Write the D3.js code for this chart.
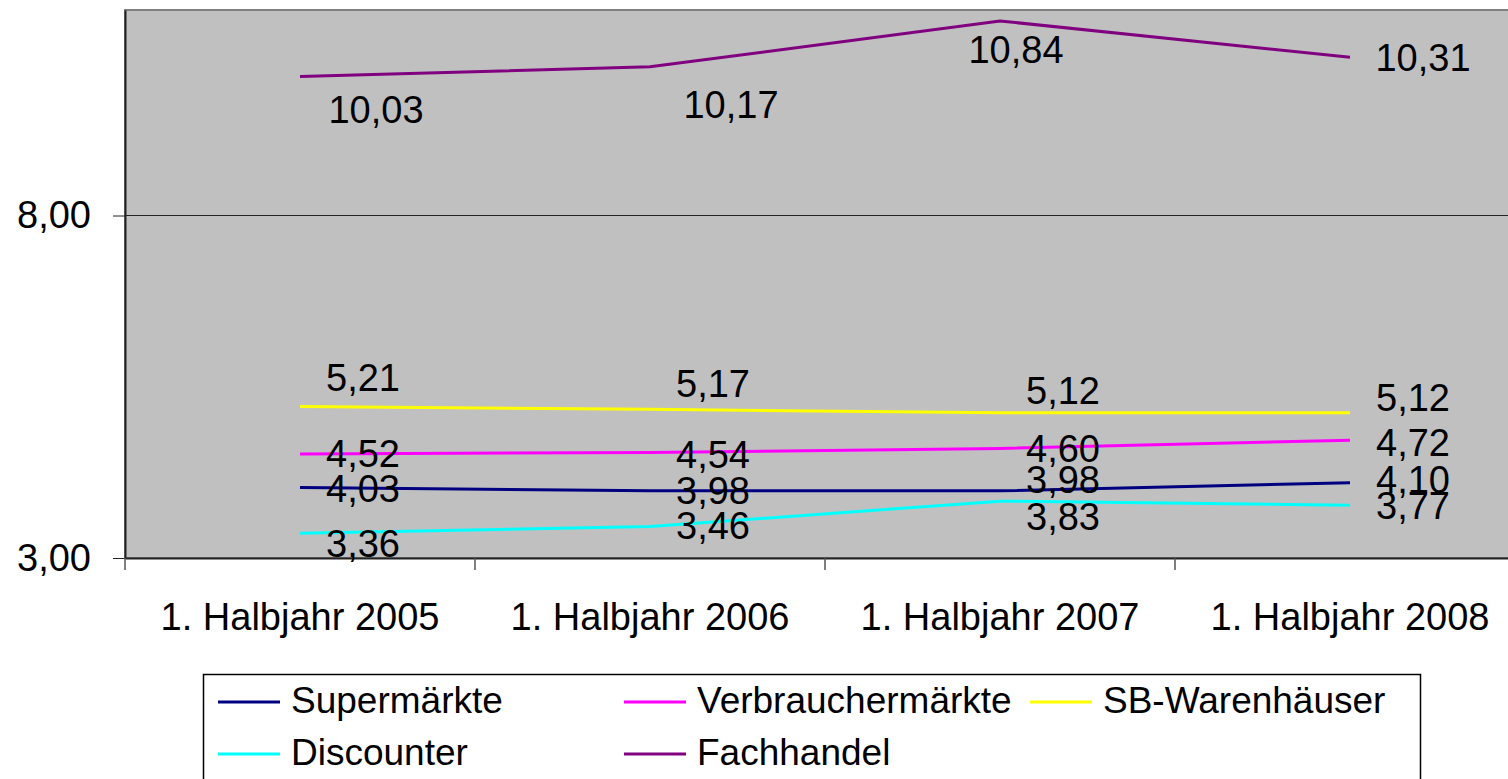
<!DOCTYPE html>
<html>
<head>
<meta charset="utf-8">
<script src="https://cdn.jsdelivr.net/npm/d3@7"></script>
<style>
  body { margin: 0; background: #fff; }
  svg { display: block; font-family: Arial, "Liberation Sans", sans-serif; }
</style>
</head>
<body>
<svg id="chart"></svg>
<script>
// Data
const categories = ["1. Halbjahr 2005", "1. Halbjahr 2006", "1. Halbjahr 2007", "1. Halbjahr 2008"]
const seriesNames = ["Supermärkte", "Verbrauchermärkte", "SB-Warenhäuser", "Discounter", "Fachhandel"]
const supermaerkte = [4.03, 3.98, 3.98, 4.10]
const verbrauchermaerkte = [4.52, 4.54, 4.60, 4.72]
const sbWarenhaeuser = [5.21, 5.17, 5.12, 5.12]
const discounter = [3.36, 3.46, 3.83, 3.77]
const fachhandel = [10.03, 10.17, 10.84, 10.31]
const yTicks = [3, 8]

// Styles / layout
const colors = ["#000080", "#FF00FF", "#FFFF00", "#00FFFF", "#800080"]
// label placement relative to each point: [dx of label centre, dy of baseline]
const labelShift = [
  [[63, 15], [63, 13], [63, 2], [63, 10]],
  [[63, 13], [63, 15], [63, 14], [63, 16]],
  [[63, -16], [63, -12], [63, -9], [63, -2]],
  [[63, 24], [63, 13], [63, 29], [63, 14]],
  [[76, 47], [81, 51], [16, 42], [73, 14]]
]

const series = [supermaerkte, verbrauchermaerkte, sbWarenhaeuser, discounter, fachhandel]
  .map((values, i) => ({ name: seriesNames[i], color: colors[i], values: values, shift: labelShift[i] }))

const width = 1508, height = 779
const plot = { left: 125, top: 10, right: 1525, bottom: 558 }
const fontSize = 38
const fmt = v => d3.format(".2f")(v).replace(".", ",")

const svg = d3.select("#chart")
  .attr("width", width)
  .attr("height", height)

const x = d3.scaleBand()
  .domain(categories)
  .range([plot.left, plot.right])

const y = d3.scaleLinear()
  .domain([3, 11])
  .range([plot.bottom, plot.top])

const cx = c => x(c) + x.bandwidth() / 2

// Plot area
svg.append("rect")
  .attr("x", plot.left)
  .attr("y", plot.top)
  .attr("width", plot.right - plot.left)
  .attr("height", plot.bottom - plot.top)
  .attr("fill", "#C0C0C0")
  .attr("stroke", "#808080")
  .attr("stroke-width", 2)

// Gridlines
svg.append("g")
  .selectAll("line")
  .data(yTicks.filter(t => t !== 3))
  .enter().append("line")
  .attr("x1", plot.left)
  .attr("x2", plot.right)
  .attr("y1", d => y(d))
  .attr("y2", d => y(d))
  .attr("stroke", "#222")
  .attr("stroke-width", 1)

// Y axis
const yAxis = svg.append("g")
  .attr("transform", `translate(${plot.left},0)`)
  .call(d3.axisLeft(y).tickValues(yTicks).tickFormat(fmt).tickSize(12).tickSizeOuter(0).tickPadding(22))
yAxis.select(".domain").attr("stroke", "#222").attr("stroke-width", 2)
yAxis.selectAll(".tick line").attr("stroke", "#222")
yAxis.selectAll("text")
  .attr("font-size", fontSize)
  .attr("font-family", "Arial, 'Liberation Sans', sans-serif")
  .attr("fill", "#000")

// X axis
const xAxis = svg.append("g")
  .attr("transform", `translate(0,${plot.bottom})`)
  .call(d3.axisBottom(x).tickSize(0).tickSizeOuter(0).tickPadding(0))
xAxis.select(".domain").attr("stroke", "#222").attr("stroke-width", 2)
xAxis.selectAll(".tick text")
  .attr("font-size", fontSize)
  .attr("font-family", "Arial, 'Liberation Sans', sans-serif")
  .attr("fill", "#000")
  .attr("dy", null)
  .attr("y", 72)

// tick marks sit on the category boundaries
xAxis.append("g")
  .selectAll("line")
  .data(categories.concat(["end"]))
  .enter().append("line")
  .attr("x1", (d, i) => plot.left + i * x.step())
  .attr("x2", (d, i) => plot.left + i * x.step())
  .attr("y1", 0)
  .attr("y2", 12)
  .attr("stroke", "#555")
  .attr("stroke-width", 1.5)

// Lines
const line = d3.line()
  .x((d, i) => cx(categories[i]))
  .y(d => y(d))

svg.append("g")
  .selectAll("path")
  .data(series)
  .enter().append("path")
  .attr("d", d => line(d.values))
  .attr("fill", "none")
  .attr("stroke", d => d.color)
  .attr("stroke-width", 3)

// Data labels
const labels = svg.append("g")
series.forEach(s => {
  labels.selectAll(null)
    .data(s.values)
    .enter().append("text")
    .text(d => fmt(d))
    .attr("x", (d, i) => cx(categories[i]) + s.shift[i][0])
    .attr("y", (d, i) => y(d) + s.shift[i][1])
    .attr("text-anchor", "middle")
    .attr("font-size", fontSize)
    .attr("fill", "#000")
})

// Legend
const legend = svg.append("g")
legend.append("rect")
  .attr("x", 203.5)
  .attr("y", 674.5)
  .attr("width", 1217)
  .attr("height", 130)
  .attr("fill", "#fff")
  .attr("stroke", "#000")
  .attr("stroke-width", 1.5)

const legendItems = legend.selectAll("g")
  .data(series)
  .enter().append("g")
  .attr("transform", (d, i) => `translate(${218 + (i % 3) * 406},${702 + Math.floor(i / 3) * 52})`)

legendItems.append("line")
  .attr("x1", 0)
  .attr("x2", 62)
  .attr("stroke", d => d.color)
  .attr("stroke-width", 3)

legendItems.append("text")
  .text(d => d.name)
  .attr("x", 73)
  .attr("y", 11)
  .attr("font-size", 37)
  .attr("fill", "#000")
</script>
</body>
</html>
